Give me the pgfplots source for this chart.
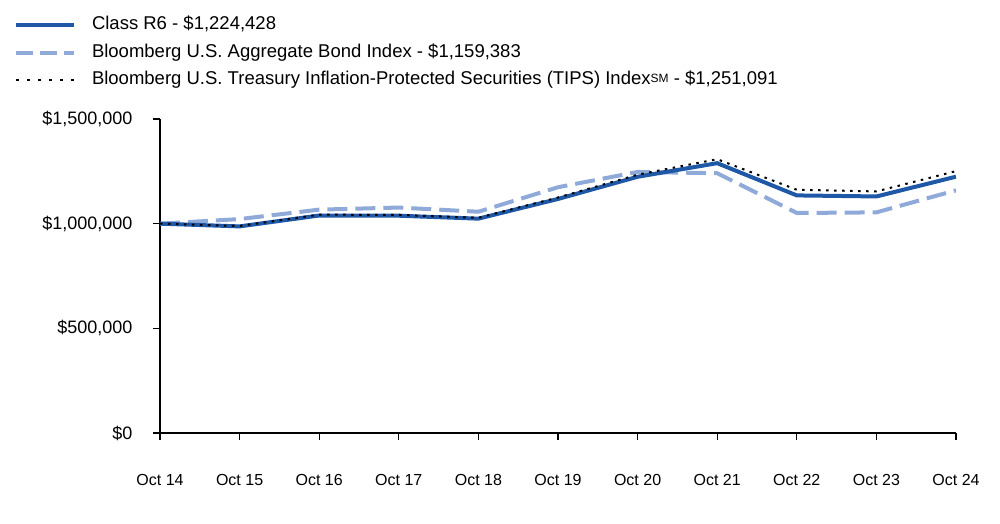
\documentclass[border=0pt]{standalone}
\usepackage{fontspec}
\setmainfont{Liberation Sans}
\usepackage{pgfplots}
\pgfplotsset{compat=1.18}
\definecolor{rsix}{RGB}{30,88,166}
\definecolor{agg}{RGB}{143,170,216}
\begin{document}
\begin{tikzpicture}
\begin{axis}[
  scale only axis,
  width=796pt, height=314pt,
  xmin=0, xmax=10, ymin=0, ymax=1500000,
  axis lines=left,
  axis line style={-, line width=1.3pt, black},
  xtick={0,...,10},
  xticklabels={Oct 14,Oct 15,Oct 16,Oct 17,Oct 18,Oct 19,Oct 20,Oct 21,Oct 22,Oct 23,Oct 24},
  ytick={0,500000,1000000,1500000},
  yticklabels={{\$0},{\$500,000},{\$1,000,000},{\$1,500,000}},
  scaled y ticks=false,
  /pgf/number format/assume math mode=true,
  tick align=outside,
  major tick length=7pt,
  tick style={black, line width=1.2pt},
  xticklabel style={font=\fontsize{16}{18}\selectfont, yshift=-31pt},
  yticklabel style={font=\fontsize{18}{20}\selectfont, xshift=-17pt},
  legend style={at={(axis description cs:-0.1834,1.325)}, anchor=north west,
    draw=none, fill=none, inner sep=0pt, outer sep=0pt,
    font=\fontsize{18.5}{20}\selectfont,
    row sep=10.5pt, column sep=16pt,
    nodes={inner sep=0pt, text height=13pt, text depth=4pt, anchor=west}},
  legend cell align=left,
  legend image code/.code={\draw[#1] (0pt,0pt) -- (58pt,0pt);},
]
\addlegendimage{rsix, line width=4pt}
\addlegendentry{Class R6 - \$1,224,428}
\addlegendimage{agg, line width=4pt, dash pattern=on 17pt off 7pt}
\addlegendentry{Bloomberg U.S. Aggregate Bond Index - \$1,159,383}
\addlegendimage{black, line width=2pt, dash pattern=on 3pt off 8pt}
\addlegendentry{Bloomberg U.S. Treasury Inflation-Protected Securities (TIPS) Index\raisebox{2pt}{\fontsize{12}{12}\selectfont SM} - \$1,251,091}

\addplot[agg, line width=4pt, dash pattern=on 20pt off 8pt, forget plot] coordinates {
(0,1000000) (1,1022000) (2,1067000) (3,1077000) (4,1057000) (5,1174000) (6,1247000) (7,1241000) (8,1051000) (9,1054000) (10,1159383)};
\addplot[rsix, line width=4pt, forget plot] coordinates {
(0,1000000) (1,987000) (2,1039000) (3,1038000) (4,1024000) (5,1118000) (6,1224000) (7,1289000) (8,1135000) (9,1130000) (10,1224428)};
\addplot[black, line width=2pt, dash pattern=on 2.5pt off 5.5pt, forget plot] coordinates {
(0,1000000) (1,989000) (2,1043000) (3,1042000) (4,1028000) (5,1125000) (6,1234000) (7,1308000) (8,1162000) (9,1154000) (10,1251091)};
\end{axis}
\path[use as bounding box] (-160pt,-90pt) rectangle (840pt,433pt);
\end{tikzpicture}
\end{document}
